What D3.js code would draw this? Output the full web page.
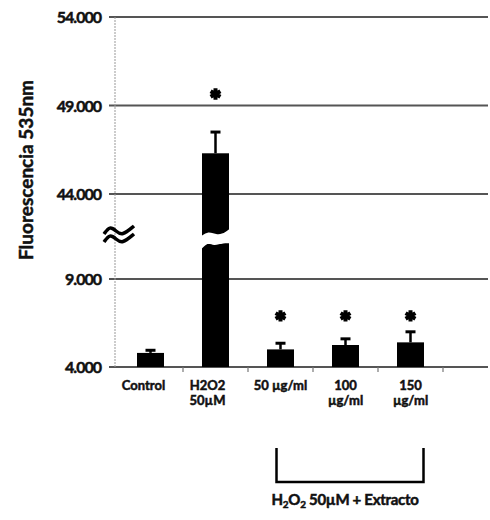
<!DOCTYPE html>
<html>
<head>
<meta charset="utf-8">
<script src="https://cdn.jsdelivr.net/npm/d3@7"></script>
<style>
  body { margin: 0; background: #fff; }
  text { font-family: Lato, "Open Sans", sans-serif; font-weight: bold; fill: #111; stroke: #111; stroke-width: 0.5px; }
</style>
</head>
<body>
<div id="chart"></div>
<script>
// data
var categories = ["Control", "H2O2 50µM", "50 µg/ml", "100 µg/ml", "150 µg/ml"];
var catLines = [["Control"], ["H2O2", "50µM"], ["50 µg/ml"], ["100", "µg/ml"], ["150", "µg/ml"]];
var values = [4800, 46300, 5000, 5250, 5400];
var errors = [150, 1200, 350, 350, 600];
var starAt = [null, 49650, 6900, 6900, 6900];
var yTicks = [4000, 9000, 44000, 49000, 54000];

var width = 490, height = 520;

var svg = d3.select("#chart").append("svg")
    .attr("width", width)
    .attr("height", height);

// broken axis: 9.000 -> 44.000 squeezed into one step
var y = d3.scaleLinear()
    .domain([4000, 9000, 44000, 54000])
    .range([367, 279, 194, 17]);

var x = d3.scaleBand()
    .domain(categories)
    .range([118, 443]);

var barW = 27;
var left = 115, right = 488;

var de = d3.formatLocale({decimal: ",", thousands: ".", grouping: [3], currency: ["", ""]});
var fmtTick = de.format(",");

// gridlines
svg.append("g").selectAll("line")
    .data(yTicks)
    .enter().append("line")
    .attr("x1", left - 6).attr("x2", right)
    .attr("y1", function (d) { return y(d); })
    .attr("y2", function (d) { return y(d); })
    .style("stroke", "#555")
    .style("stroke-width", 1.8);

// y axis line
svg.append("line")
    .attr("x1", left).attr("x2", left)
    .attr("y1", y(54000)).attr("y2", y(4000))
    .style("stroke", "#999")
    .style("stroke-width", 1)
    .style("stroke-dasharray", "2,1");

// tick labels
svg.append("g").selectAll("text")
    .data(yTicks)
    .enter().append("text")
    .attr("x", 101)
    .attr("y", function (d) { return y(d) + 6; })
    .attr("text-anchor", "end")
    .style("font-size", "16px")
    .style("letter-spacing", "-1px")
    .text(function (d) { return fmtTick(d); });

// x tick marks at band boundaries
svg.append("g").selectAll("line")
    .data(categories)
    .enter().append("line")
    .attr("x1", function (d, i) { return x.range()[0] + x.step() * (i + 1); })
    .attr("x2", function (d, i) { return x.range()[0] + x.step() * (i + 1); })
    .attr("y1", y(4000)).attr("y2", y(4000) + 5)
    .style("stroke", "#777")
    .style("stroke-width", 1.2);

// bars
svg.append("g").selectAll("rect")
    .data(values)
    .enter().append("rect")
    .attr("x", function (d, i) { return x(categories[i]) + x.bandwidth() / 2 - barW / 2; })
    .attr("y", function (d) { return y(d); })
    .attr("width", barW)
    .attr("height", function (d) { return y(4000) - y(d); })
    .style("fill", "#000");

// error bars
var eb = svg.append("g").selectAll("g")
    .data(values)
    .enter().append("g");
eb.append("line")
    .attr("x1", function (d, i) { return x(categories[i]) + x.bandwidth() / 2; })
    .attr("x2", function (d, i) { return x(categories[i]) + x.bandwidth() / 2; })
    .attr("y1", function (d) { return y(d); })
    .attr("y2", function (d, i) { return y(d + errors[i]); })
    .style("stroke", "#000").style("stroke-width", 2.5);
eb.append("line")
    .attr("x1", function (d, i) { return x(categories[i]) + x.bandwidth() / 2 - 5; })
    .attr("x2", function (d, i) { return x(categories[i]) + x.bandwidth() / 2 + 5; })
    .attr("y1", function (d, i) { return y(d + errors[i]); })
    .attr("y2", function (d, i) { return y(d + errors[i]); })
    .style("stroke", "#000").style("stroke-width", 3);

// break in H2O2 bar
var bx = x(categories[1]) + x.bandwidth() / 2;
var wave = d3.line().curve(d3.curveBasis);
var yb = (y(9000) + y(44000)) / 2 + 4;
svg.append("path")
    .attr("d", wave([[bx - 17, yb - 2], [bx - 8, yb - 10], [bx + 2, yb - 5], [bx + 10, yb - 8], [bx + 17, yb - 14]]) +
        "L" + (bx + 17) + "," + (yb + 3) +
        wave([[bx + 17, yb + 3], [bx + 8, yb + 2], [bx - 2, yb + 6], [bx - 8, yb + 1], [bx - 17, yb + 12]]).slice(1) + "Z")
    .style("fill", "#fff");

// axis break symbol
[0, 8].forEach(function (o) {
    svg.append("path")
        .attr("d", wave([[104, 234 + o], [110, 226 + o], [116, 231 + o], [122, 236 + o], [134, 226 + o]]))
        .style("fill", "none")
        .style("stroke", "#000")
        .style("stroke-width", 3.5);
});

// significance stars
var star = d3.symbol().type(d3.symbolAsterisk).size(90);
svg.append("g").selectAll("path")
    .data(starAt.map(function (v, i) { return {v: v, i: i}; }).filter(function (d) { return d.v != null; }))
    .enter().append("path")
    .attr("transform", function (d) {
        return "translate(" + (x(categories[d.i]) + x.bandwidth() / 2) + "," + y(d.v) + ")";
    })
    .attr("d", star)
    .style("fill", "none")
    .style("stroke", "#000")
    .style("stroke-width", 4);

// category labels
var lab = svg.append("g").selectAll("text")
    .data(catLines)
    .enter().append("text")
    .attr("x", function (d, i) { return x(categories[i]) + x.bandwidth() / 2 - (i === 0 ? 7 : i === 1 ? 8 : 0); })
    .attr("y", 390)
    .attr("text-anchor", "middle")
    .style("font-size", "13px");
lab.selectAll("tspan")
    .data(function (d) { return d; })
    .enter().append("tspan")
    .attr("x", function () { return d3.select(this.parentNode).attr("x"); })
    .attr("dy", function (d, i) { return i === 0 ? 0 : 15; })
    .text(function (d) { return d; });

// bracket
var bl = x(categories[2]) + x.bandwidth() / 2 - 4, br = x(categories[4]) + x.bandwidth() / 2 + 13;
svg.append("path")
    .attr("d", "M" + bl + ",448V482H" + br + "V448")
    .style("fill", "none")
    .style("stroke", "#000")
    .style("stroke-width", 2.5);

var bt = svg.append("text")
    .attr("x", 345)
    .attr("y", 505)
    .attr("text-anchor", "middle")
    .style("font-size", "15px")
    .style("letter-spacing", "-0.3px");
bt.append("tspan").text("H");
bt.append("tspan").attr("dy", 3).style("font-size", "10px").text("2");
bt.append("tspan").attr("dy", -3).text("O");
bt.append("tspan").attr("dy", 3).style("font-size", "10px").text("2");
bt.append("tspan").attr("dy", -3).text(" 50µM + Extracto");

// y title
svg.append("text")
    .attr("transform", "translate(33,170) rotate(-90)")
    .attr("text-anchor", "middle")
    .style("font-size", "19px")
    .text("Fluorescencia 535nm");
</script>
</body>
</html>
